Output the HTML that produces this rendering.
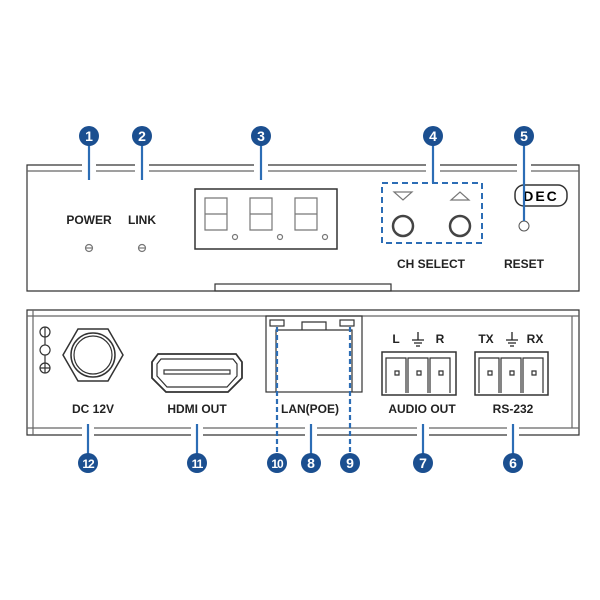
<!DOCTYPE html><html><head><style>body{margin:0;background:#fff}svg{display:block}text{font-family:"Liberation Sans",sans-serif}</style></head><body>
<svg width="600" height="600" viewBox="0 0 600 600" xmlns="http://www.w3.org/2000/svg">
<g stroke="#333" fill="none" stroke-width="1.2">
<!-- front panel -->
<path d="M27,291 V165 H579 V291 Z"/>
<path d="M27,171 H579" stroke="#666"/>
<rect x="215" y="284" width="176" height="7"/>
<rect x="195" y="189" width="142" height="60" stroke-width="1.5"/>
</g>
<!-- gaps in top lines for leader lines -->
<g fill="#fff"><rect x="82" y="160" width="14" height="14"/><rect x="135" y="160" width="14" height="14"/><rect x="254" y="160" width="14" height="14"/><rect x="426" y="160" width="14" height="14"/><rect x="517" y="160" width="14" height="14"/></g>
<g stroke="#777" fill="none" stroke-width="1.2">
<path d="M205,198h22v16h-22zM205,214v16h22v-16" /><circle cx="235" cy="237" r="2.5"/>
<path d="M250,198h22v16h-22zM250,214v16h22v-16" /><circle cx="280" cy="237" r="2.5"/>
<path d="M295,198h22v16h-22zM295,214v16h22v-16" /><circle cx="325" cy="237" r="2.5"/>
<circle cx="89" cy="248" r="3.5"/><path d="M85.5,248h7"/>
<circle cx="142" cy="248" r="3.5"/><path d="M138.5,248h7"/>
<path d="M394,192h18l-9,8z M451,200h18l-9,-8z"/>
</g>
<g stroke="#444" stroke-width="2.5" fill="#fff"><circle cx="403" cy="226" r="10"/><circle cx="460" cy="226" r="10"/></g>
<circle cx="524" cy="226" r="5" fill="#fff" stroke="#555"/>
<rect x="515" y="185" width="52" height="21" rx="9" fill="none" stroke="#333" stroke-width="1.5"/>
<text x="541" y="201" font-size="14" font-weight="bold" text-anchor="middle" letter-spacing="2">DEC</text>
<rect x="382" y="183" width="100" height="60" fill="none" stroke="#2c6db5" stroke-width="2" stroke-dasharray="6,4"/>
<g font-size="12" font-weight="bold" text-anchor="middle" fill="#222">
<text x="89" y="224">POWER</text><text x="142" y="224">LINK</text>
<text x="431" y="268">CH SELECT</text><text x="524" y="268">RESET</text>
<text x="93" y="413">DC 12V</text><text x="197" y="413">HDMI OUT</text>
<text x="310" y="413">LAN(POE)</text><text x="422" y="413">AUDIO OUT</text><text x="513" y="413">RS-232</text>
<text x="396" y="343">L</text><text x="440" y="343">R</text>
<text x="486" y="343">TX</text><text x="535" y="343">RX</text>
</g>
<g stroke="#222" stroke-width="1.3"><path d="M418,332v8M412,340h12M414,343h8M416,346h4M512,332v8M506,340h12M508,343h8M510,346h4"/></g>
<!-- rear panel -->
<g stroke="#333" fill="none" stroke-width="1.2">
<path d="M27,310 H579 V435 H27 Z"/>
<path d="M33,310 V435 M572,316 V428 M27,316 H579 M27,428 H579" stroke="#666"/>
<rect x="266" y="316" width="96" height="76"/>
<path d="M276,392 V330 H352 V392 M302,330 V322 H326 V330"/>
<rect x="270" y="320" width="14" height="6"/><rect x="340" y="320" width="14" height="6"/>
<path d="M63,355 l15,-26 h30 l15,26 l-15,26 h-30z" stroke-width="1.5"/>
<circle cx="93" cy="355" r="22" stroke-width="1.5"/><circle cx="93" cy="355" r="19"/>
<circle cx="45" cy="332" r="5"/><path d="M45,327v10 M45,337v8"/><path d="M45,345 a5,5 0 1 0 0.1,0"/><path d="M45,355v8"/><circle cx="45" cy="368" r="5"/><path d="M40,368h10M45,363v10"/>
<path d="M152,362 l6,-8 h78 l6,8 v16 l-14,14 h-62 l-14,-14z" stroke-width="1.8"/>
<path d="M157,364 l4,-5 h72 l4,5 v12 l-10,11 h-60 l-10,-11z"/>
<rect x="164" y="370" width="66" height="4"/>
<rect x="382" y="352" width="74" height="43" stroke-width="1.5"/>
<rect x="475" y="352" width="73" height="43" stroke-width="1.5"/>
<path d="M386,393V358h20v35M408,393V358h20v35M430,393V358h20v35M479,393V358h20v35M501,393V358h20v35M523,393V358h20v35"/>
<path d="M395,371h4v4h-4zM417,371h4v4h-4zM439,371h4v4h-4zM488,371h4v4h-4zM510,371h4v4h-4zM532,371h4v4h-4z"/>
</g>
<g fill="#fff"><rect x="82" y="424" width="12" height="14"/><rect x="191" y="424" width="12" height="14"/><rect x="305" y="424" width="12" height="14"/><rect x="417" y="424" width="12" height="14"/><rect x="507" y="424" width="12" height="14"/></g>
<!-- leaders -->
<g stroke="#2c6db5" stroke-width="2.2" fill="none">
<path d="M89,140V180M142,140V180M261,140V180M433,140V183M524,140V221"/>
<path d="M88,424V458M197,424V458M311,424V458M423,424V458M513,424V458"/>
<path d="M277,327V455M350,327V455" stroke-dasharray="5,3"/>
</g>
<g fill="#1b4f90">
<circle cx="89" cy="136" r="10"/><circle cx="142" cy="136" r="10"/><circle cx="261" cy="136" r="10"/><circle cx="433" cy="136" r="10"/><circle cx="524" cy="136" r="10"/>
<circle cx="88" cy="463" r="10"/><circle cx="197" cy="463" r="10"/><circle cx="277" cy="463" r="10"/><circle cx="311" cy="463" r="10"/><circle cx="350" cy="463" r="10"/><circle cx="423" cy="463" r="10"/><circle cx="513" cy="463" r="10"/>
</g>
<g fill="#fff" font-size="14" font-weight="bold" text-anchor="middle">
<text x="89" y="141">1</text><text x="142" y="141">2</text><text x="261" y="141">3</text><text x="433" y="141">4</text><text x="524" y="141">5</text>
<text x="88" y="468" font-size="12" letter-spacing="-1">12</text><text x="197" y="468" font-size="12" letter-spacing="-1">11</text><text x="277" y="468" font-size="12" letter-spacing="-1">10</text>
<text x="311" y="468">8</text><text x="350" y="468">9</text><text x="423" y="468">7</text><text x="513" y="468">6</text>
</g>
</svg></body></html>
